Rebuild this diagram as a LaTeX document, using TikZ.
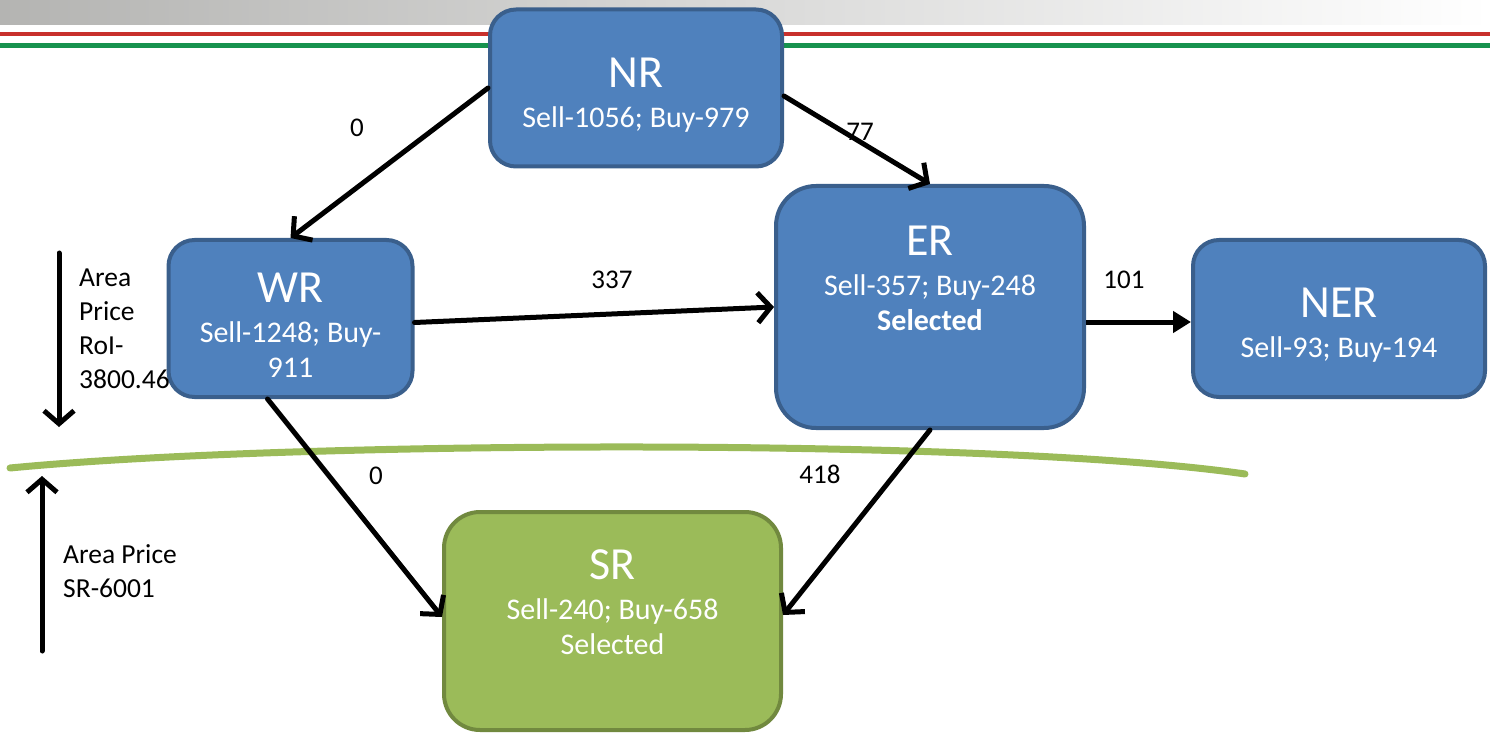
\documentclass[tikz,border=0pt]{standalone}
\usepackage{fontspec}
\setmainfont{Carlito}
\usetikzlibrary{arrows.meta}

\definecolor{boxblue}{HTML}{4F81BD}
\definecolor{boxblueline}{HTML}{3A5F8C}
\definecolor{boxgreen}{HTML}{9BBB59}
\definecolor{boxgreenline}{HTML}{71893F}
\definecolor{bandred}{HTML}{C8302C}
\definecolor{bandgreen}{HTML}{17924E}
\definecolor{bandgrey}{HTML}{B4B4B2}

\newcommand{\ttl}{\fontsize{46}{34}\selectfont}
\newcommand{\sbt}{\fontsize{30}{35}\selectfont}

\tikzset{
  region/.style={draw=boxblueline, fill=boxblue, line width=4pt,
    rounded corners=#1, inner sep=0pt},
  region/.default=26pt,
  regiongreen/.style={region=#1, draw=boxgreenline, fill=boxgreen},
  regiontext/.style={text=white, align=center, inner sep=0pt, font=\sbt},
  conn/.style={line width=5pt, line cap=round, -{Straight Barb[length=13pt,width=30pt]}},
  connsolid/.style={line width=5pt, -{Triangle[length=18pt,width=21pt]}},
  flowlabel/.style={font=\fontsize{27}{32}\selectfont, inner sep=0pt},
  sidelabel/.style={font=\fontsize{27.5}{34}\selectfont, align=left, inner sep=0pt, anchor=north west},
}

\begin{document}
\begin{tikzpicture}[x=1pt, y=-1pt]
\useasboundingbox (0,0) rectangle (1490,735);

% header band
\shade[left color=bandgrey, right color=white] (0,0) rectangle (1490,25);
\draw[bandred, line width=4.5pt] (0,34) -- (1490,34);
\draw[bandgreen, line width=5pt] (0,45.5) -- (1490,45.5);

% price boundary
\draw[boxgreen, line width=7pt, line cap=round]
  (10,468) .. controls (300,440) and (1000,438) .. (1245,474);

% regions
\node[region, minimum width=292pt, minimum height=157pt] (nr) at (636,88) {};
\node[regiontext] (nrT) at ([yshift=-7pt]nr.center) {{\ttl NR}\\[5pt]Sell-1056; Buy-979};

\node[region, minimum width=244pt, minimum height=157pt] (wr) at (290.5,318.5) {};
\node[regiontext] (wrT) at ([yshift=-7pt]wr.center) {{\ttl WR}\\[5pt]Sell-1248; Buy-\\911};

\node[region=40pt, minimum width=308pt, minimum height=242pt] (er) at (930,307) {};
\node[regiontext] (erT) at ([yshift=29pt]er.center) {{\ttl ER}\\[5pt]Sell-357; Buy-248\\\textbf{Selected}};

\node[region, minimum width=292pt, minimum height=157pt] (ner) at (1339,318.5) {};
\node[regiontext] (nerT) at ([yshift=-7pt]ner.center) {{\ttl NER}\\[5pt]Sell-93; Buy-194};

\node[regiongreen=36pt, minimum width=337pt, minimum height=218pt] (sr) at (612.5,621) {};
\node[regiontext] (srT) at ([yshift=19pt]sr.center) {{\ttl SR}\\[5pt]Sell-240; Buy-658\\Selected};

% flows between regions
\draw[conn] (nr.west) -- (wr.north);
\draw[conn] ([yshift=-8pt]nr.east) -- (er.north);
\draw[conn] ([yshift=-4pt]wr.east) -- (er.west);
\draw[connsolid] ([yshift=-15pt]er.east) -- ([yshift=-3.5pt]ner.west);
\draw[conn] ([xshift=-23pt]wr.south) -- ([yshift=4pt]sr.west);
\draw[conn] (er.south) -- ([yshift=6pt]sr.east);

% flow values
\node[flowlabel] (f1) at (357,128) {0};
\node[flowlabel] (f2) at (860,132) {77};
\node[flowlabel] (f3) at (612,280) {337};
\node[flowlabel] (f4) at (1124,280) {101};
\node[flowlabel] (f5) at (376,476) {0};
\node[flowlabel] (f6) at (820,474) {418};

% area prices
\coordinate (dnA) at (59,253);
\coordinate (dnB) at (59,427);
\draw[conn] (dnA) -- (dnB);
\node[sidelabel] (roi) at (79,269) {Area\\Price\\RoI-\\3800.46};

\coordinate (upA) at (42,651);
\coordinate (upB) at (42,476);
\draw[conn] (upA) -- (upB);
\node[sidelabel] (srp) at (63,544) {Area Price\\SR-6001};
\end{tikzpicture}
\end{document}
